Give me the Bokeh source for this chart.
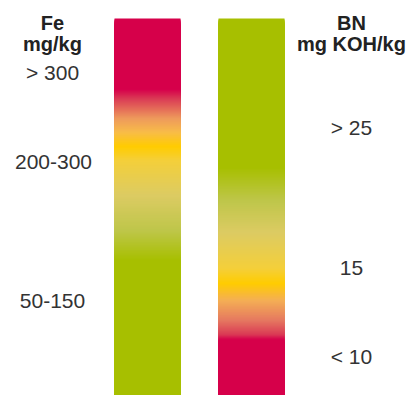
from bokeh.plotting import figure
from bokeh.models import Range1d, ColumnDataSource
from bokeh.core.properties import value
from bokeh.embed import file_html
from bokeh.resources import INLINE

# Bar extents (page pixel units, top -> bottom)
bar_top = 18
bar_bottom = 403
fe_x = [114, 180]
bn_x = [218, 284]

# Gradient colour stops along each bar
fe_stop_pos = [18, 89, 98, 118, 132, 146, 160, 195, 230, 260, 403]
fe_stop_col = ["#D6004B", "#D6004B", "#DA3A55", "#EE9A5C", "#F8BC48", "#FFCC00",
               "#F4CF3A", "#DCCB63", "#BEC64A", "#A7BF00", "#A7BF00"]
bn_stop_pos = [18, 167, 200, 232, 268, 283, 300, 320, 334, 339, 403]
bn_stop_col = ["#A7BF00", "#A7BF00", "#BEC64A", "#DCCB63", "#F4CF3A", "#FFCC00",
               "#F4AE55", "#E57860", "#DA3A55", "#D6004B", "#D6004B"]

# Texts
title_text = ["Fe", "mg/kg", "BN", "mg KOH/kg"]
title_x = [52, 52, 351, 351]
title_y = [22, 43, 22, 43]
label_text = ["> 300", "200-300", "50-150", "> 25", "15", "< 10"]
label_x = [52, 53, 52, 351, 351, 351]
label_y = [72, 161, 300, 127, 267, 356]


def hex2rgb(h):
    h = h.lstrip("#")
    return [int(h[i:i + 2], 16) for i in (0, 2, 4)]


def color_at(pos, stops, cols):
    for i in range(len(stops) - 1):
        if stops[i] <= pos <= stops[i + 1]:
            a, b = stops[i], stops[i + 1]
            t = 0 if b == a else (pos - a) / (b - a)
            c1, c2 = hex2rgb(cols[i]), hex2rgb(cols[i + 1])
            c = [round(c1[k] + (c2[k] - c1[k]) * t) for k in range(3)]
            return "#%02x%02x%02x" % tuple(c)
    return cols[-1]


def slices(xr, stops, cols):
    # each slice runs from its row to the bar bottom; later slices cover
    # earlier ones, so no background bleeds through anti-aliased seams
    tops, bots, colors = [], [], []
    for yy in range(bar_top, bar_bottom):
        tops.append(yy)
        bots.append(bar_bottom)
        colors.append(color_at(yy + 0.5, stops, cols))
    return dict(left=[xr[0]] * len(tops), right=[xr[1]] * len(tops),
                top=tops, bottom=bots, color=colors)


W, H = 409, 395
p = figure(width=W, height=H, output_backend="svg", toolbar_location=None,
           x_range=Range1d(0, W), y_range=Range1d(H, 0),
           min_border=0, outline_line_color=None)
p.axis.visible = False
p.grid.visible = False
p.background_fill_color = "white"
p.border_fill_color = "white"

for xr, st, co in [(fe_x, fe_stop_pos, fe_stop_col), (bn_x, bn_stop_pos, bn_stop_col)]:
    src = ColumnDataSource(slices(xr, st, co))
    p.quad(left="left", right="right", top="top", bottom="bottom", source=src,
           fill_color="color", fill_alpha=1.0, line_color=None)

p.text(x=title_x, y=title_y, text=title_text, text_align="center",
       text_baseline="middle", text_font=value("Liberation Sans"),
       text_font_style="bold", text_font_size="20px", text_color="#222222")
p.text(x=label_x, y=label_y, text=label_text, text_align="center",
       text_baseline="middle", text_font=value("Liberation Sans"),
       text_font_size="21px", text_color="#333333")

open("out.html", "w").write(file_html(p, INLINE))
